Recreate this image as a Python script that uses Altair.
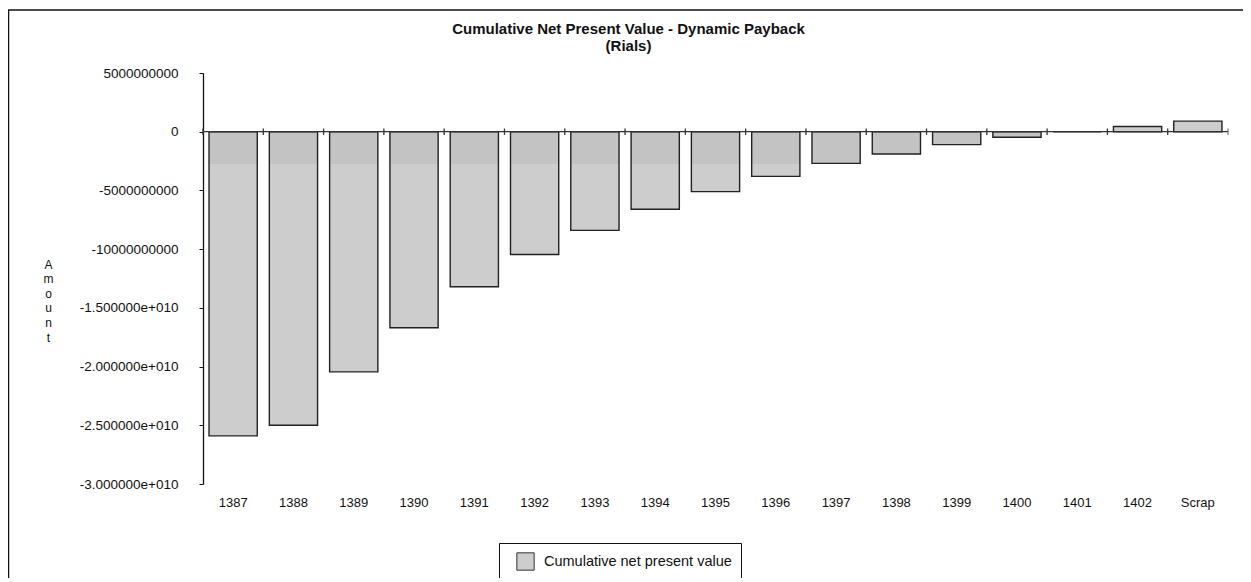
import altair as alt
import pandas as pd

# ---- data ----
categories = ["1387", "1388", "1389", "1390", "1391", "1392", "1393", "1394", "1395",
              "1396", "1397", "1398", "1399", "1400", "1401", "1402", "Scrap"]
cum_npv = [-2.59e10, -2.50e10, -2.045e10, -1.67e10, -1.32e10, -1.045e10, -8.4e9, -6.6e9,
           -5.1e9, -3.8e9, -2.7e9, -1.9e9, -1.1e9, -4.7e8, 0.0, 4.5e8, 9.0e8]
y_tick_values = [5000000000, 0, -5000000000, -10000000000, -15000000000,
                 -20000000000, -25000000000, -30000000000]
y_tick_labels = ["5000000000", "0", "-5000000000", "-10000000000", "-1.500000e+010",
                 "-2.000000e+010", "-2.500000e+010", "-3.000000e+010"]
series_name = "Cumulative net present value"
title_lines = ["Cumulative Net Present Value - Dynamic Payback", "(Rials)"]
y_title = "Amount"

df = pd.DataFrame({"year": categories, "value": cum_npv, "series": series_name})
last_df = pd.DataFrame({"year": [categories[-1]]})
frame_df = pd.DataFrame({"f": [0]})

W, H = 1025, 411
FONT = "Liberation Sans"

label_expr = " : ".join(
    f"datum.value == {v} ? '{l}'" for v, l in zip(y_tick_values, y_tick_labels)
) + " : ''"

x_scale = alt.Scale(domain=categories, paddingInner=0.2, paddingOuter=0.1)
y_scale = alt.Scale(domain=[-30000000000, 5000000000], nice=False)

x_axis = alt.Axis(title=None, domain=False, ticks=False, labelAngle=0, labelPadding=12,
                  labelFontSize=13, labelFont=FONT, labelColor="#111", grid=False)
y_axis = alt.Axis(values=y_tick_values, labelExpr=label_expr, grid=False,
                  title=list(y_title), titleAngle=0, titleX=-155, titleY=186,
                  titleBaseline="top", titleAlign="center", titleFontSize=12,
                  titleFontWeight="normal", titleFont=FONT, titleColor="#111",
                  titleLineHeight=14.6, tickSize=4, tickColor="#111", labelPadding=21,
                  labelFontSize=13.5, labelFont=FONT, labelColor="#111",
                  domainColor="#111", domainWidth=1.3)

coarse = alt.Chart(df).mark_bar().encode(
    x=alt.X("year:N", sort=categories, scale=x_scale, axis=x_axis),
    y=alt.Y("value:Q", scale=y_scale, axis=y_axis),
    color=alt.Color("series:N", scale=alt.Scale(domain=[series_name], range=["#cdcdcd"]),
                    legend=alt.Legend(title=None, orient="none", legendX=296, legendY=470,
                                      strokeColor="#111", fillColor="white", padding=9,
                                      cornerRadius=0, symbolType="square", symbolSize=300,
                                      symbolStrokeColor="#333", symbolStrokeWidth=1,
                                      labelFontSize=14.5, labelFont=FONT, labelColor="#111",
                                      labelLimit=400, labelOffset=9, symbolOffset=8,
                                      rowPadding=0)),
)

fine = alt.Chart(df).transform_calculate(
    fine="datum.value < 0 ? max(datum.value, -2750000000) : 0"
).mark_bar(color="#c3c3c3").encode(
    x=alt.X("year:N", sort=categories, scale=x_scale, axis=x_axis),
    y=alt.Y("fine:Q", scale=y_scale, axis=y_axis),
)

outline = alt.Chart(df).mark_bar(fillOpacity=0, stroke="#222", strokeWidth=1.4).encode(
    x=alt.X("year:N", sort=categories, scale=x_scale, axis=x_axis),
    y=alt.Y("value:Q", scale=y_scale, axis=y_axis),
)

zero_line = alt.Chart(frame_df).mark_rule(color="#333", strokeWidth=1.2).encode(
    y=alt.datum(0), x=alt.value(0), x2=alt.value("width")
)

frame = alt.Chart(frame_df).mark_rect(fillOpacity=0, stroke="#111", strokeWidth=1.5).encode(
    x=alt.value(-194.5), x2=alt.value(1200), y=alt.value(-63), y2=alt.value(700)
)

bars_group = alt.layer(coarse, fine, outline, zero_line, frame)

tick_scale = alt.Scale(domain=categories, paddingInner=0, paddingOuter=0)
ticks = alt.Chart(df).mark_rule(color="#333", strokeWidth=1.3).encode(
    x=alt.X("year:N", sort=categories, scale=tick_scale, axis=None, bandPosition=0),
    y=alt.datum(270000000), y2=alt.datum(-270000000),
)
tick_end = alt.Chart(last_df).mark_rule(color="#555", strokeWidth=1).encode(
    x=alt.X("year:N", sort=categories, scale=tick_scale, axis=None, bandPosition=1),
    y=alt.datum(270000000), y2=alt.datum(-270000000),
)
ticks_group = alt.layer(ticks, tick_end)

chart = alt.layer(bars_group, ticks_group).resolve_scale(x="independent").properties(
    width=W, height=H,
    background="white",
    title=alt.TitleParams(text=title_lines, fontSize=15, fontWeight="bold", font=FONT,
                          color="#111", anchor="middle", dx=-87, offset=-45,
                          lineHeight=17),
    autosize=alt.AutoSizeParams(type="none"),
    padding={"left": 195, "top": 65, "right": 15, "bottom": 94},
).configure_view(stroke="transparent", strokeWidth=0)

chart.save("out.html", embed_options={"renderer": "svg", "actions": False})
